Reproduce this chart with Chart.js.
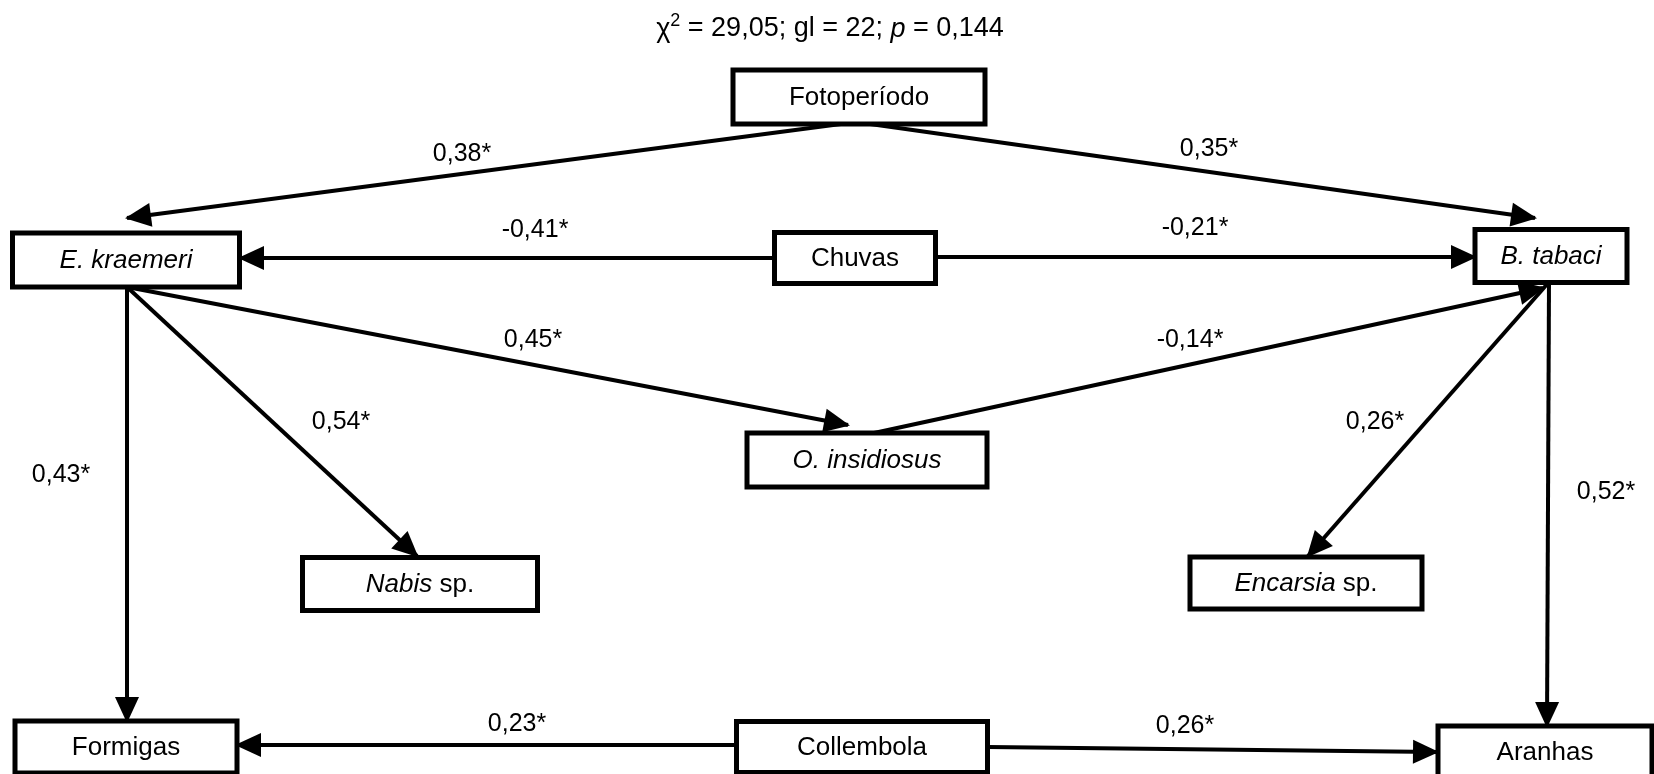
<!DOCTYPE html>
<html>
<head>
<meta charset="utf-8">
<script src="https://cdn.jsdelivr.net/npm/chart.js@4"></script>
<style>
  html, body { margin: 0; padding: 0; background: #fff; }
  #wrap { width: 1654px; height: 774px; }
</style>
</head>
<body>
<div id="wrap"><canvas id="diagram"></canvas></div>
<script>
// nodes of the path diagram (centre, box size in diagram units; _x_ = italic)
const nodeNames = ["Fotoperíodo", "_E. kraemeri_", "Chuvas", "_B. tabaci_", "_O. insidiosus_",
	"_Nabis_ sp.", "_Encarsia_ sp.", "Formigas", "Collembola", "Aranhas"];
const nodeX = [859, 126, 855, 1551, 867, 420, 1306, 126, 862, 1545];
const nodeY = [97, 260, 258, 256, 460, 584, 583, 747, 747, 752];
const nodeW = [252, 227, 161, 152, 240, 235, 232, 222, 251, 214];
const nodeH = [54, 54, 51, 53, 54, 53, 52, 52, 51, 52];

// paths: start, arrow tip, coefficient and where it is written
const edgeX1 = [856, 856, 775, 936, 127, 874, 127, 127, 1549, 1549, 737, 988];
const edgeY1 = [122, 122, 258, 257, 287, 433, 287, 287, 282, 282, 745, 747];
const edgeX2 = [127, 1535, 240, 1475, 848, 1543, 417, 127, 1308, 1547, 237, 1437];
const edgeY2 = [218, 218, 258, 257, 425, 288, 556, 721, 556, 726, 745, 752];
const coefs = ["0,38*", "0,35*", "-0,41*", "-0,21*", "0,45*", "-0,14*",
	"0,54*", "0,43*", "0,26*", "0,52*", "0,23*", "0,26*"];
const coefX = [462, 1209, 535, 1195, 533, 1190, 341, 61, 1375, 1606, 517, 1185];
const coefY = [154, 149, 230, 228, 340, 340, 422, 475, 422, 492, 724, 726];

const FONT = "'Liberation Sans', Arial, sans-serif";

const datasets = edgeX1.map((x1, i) => ({
	label: coefs[i],
	data: [{ x: x1, y: edgeY1[i] }, { x: edgeX2[i], y: edgeY2[i] }],
	showLine: true,
	borderColor: "#000",
	borderWidth: 4,
	pointRadius: 0,
	pointHoverRadius: 0,
	fill: false,
}));

function drawRich(ctx, str, cx, cy, size) {
	const parts = str.split("_");
	let total = 0;
	const widths = parts.map((p, i) => {
		ctx.font = (i % 2 ? "italic " : "") + size + "px " + FONT;
		const w = ctx.measureText(p).width;
		total += w;
		return w;
	});
	let x = cx - total / 2;
	ctx.textAlign = "left";
	ctx.textBaseline = "middle";
	parts.forEach((p, i) => {
		ctx.font = (i % 2 ? "italic " : "") + size + "px " + FONT;
		ctx.fillText(p, x, cy);
		x += widths[i];
	});
}

const diagramPlugin = {
	id: "diagram",
	afterDatasetsDraw(chart) {
		const ctx = chart.ctx;
		const xs = chart.scales.x;
		const ys = chart.scales.y;
		ctx.save();
		ctx.fillStyle = "#000";

		// arrow heads at the end of each path
		chart.data.datasets.forEach((ds, i) => {
			const pts = chart.getDatasetMeta(i).data;
			const a = pts[0], b = pts[1];
			const ang = Math.atan2(b.y - a.y, b.x - a.x);
			const cos = Math.cos(ang), sin = Math.sin(ang);
			const len = 26, half = 12, tipX = b.x + 2 * cos, tipY = b.y + 2 * sin;
			ctx.beginPath();
			ctx.moveTo(tipX, tipY);
			ctx.lineTo(tipX - len * cos + half * sin, tipY - len * sin - half * cos);
			ctx.lineTo(tipX - len * cos - half * sin, tipY - len * sin + half * cos);
			ctx.closePath();
			ctx.fill();
		});

		// variable boxes
		nodeNames.forEach((name, i) => {
			const x0 = xs.getPixelForValue(nodeX[i] - nodeW[i] / 2);
			const x1 = xs.getPixelForValue(nodeX[i] + nodeW[i] / 2);
			const y0 = ys.getPixelForValue(nodeY[i] - nodeH[i] / 2);
			const y1 = ys.getPixelForValue(nodeY[i] + nodeH[i] / 2);
			const left = Math.min(x0, x1), top = Math.min(y0, y1);
			const w = Math.abs(x1 - x0), h = Math.abs(y1 - y0);
			ctx.fillStyle = "#fff";
			ctx.fillRect(left, top, w, h);
			ctx.strokeStyle = "#000";
			ctx.lineWidth = 5;
			ctx.strokeRect(left, top, w, h);
			ctx.fillStyle = "#000";
			drawRich(ctx, name, xs.getPixelForValue(nodeX[i]), ys.getPixelForValue(nodeY[i]) + 1, 26);
		});

		// path coefficients
		ctx.font = "25px " + FONT;
		ctx.textAlign = "center";
		ctx.textBaseline = "middle";
		coefs.forEach((c, i) => {
			ctx.fillText(c, xs.getPixelForValue(coefX[i]), ys.getPixelForValue(coefY[i]));
		});

		// fit statistics
		const tx = xs.getPixelForValue(830), ty = ys.getPixelForValue(29);
		const segs = [
			["χ", "", 27, 1],
			["2", "", 18, -8],
			[" = 29,05; gl = 22; ", "", 27, 0],
			["p", "italic ", 27, 0],
			[" = 0,144", "", 27, 0],
		];
		let total = 0;
		segs.forEach(s => { ctx.font = s[1] + s[2] + "px " + FONT; s.push(ctx.measureText(s[0]).width); total += s[4]; });
		let x = tx - total / 2;
		ctx.textAlign = "left";
		segs.forEach(s => {
			ctx.font = s[1] + s[2] + "px " + FONT;
			ctx.fillText(s[0], x, ty + s[3]);
			x += s[4];
		});
		ctx.restore();
	},
};

new Chart(document.getElementById("diagram"), {
	type: "scatter",
	data: { datasets },
	options: {
		responsive: true,
		maintainAspectRatio: false,
		animation: false,
		events: [],
		layout: { padding: 0 },
		plugins: { legend: { display: false }, tooltip: { enabled: false } },
		scales: {
			x: { type: "linear", min: 0, max: 1654, display: false },
			y: { type: "linear", min: 0, max: 774, reverse: true, display: false },
		},
	},
	plugins: [diagramPlugin],
});
</script>
</body>
</html>
